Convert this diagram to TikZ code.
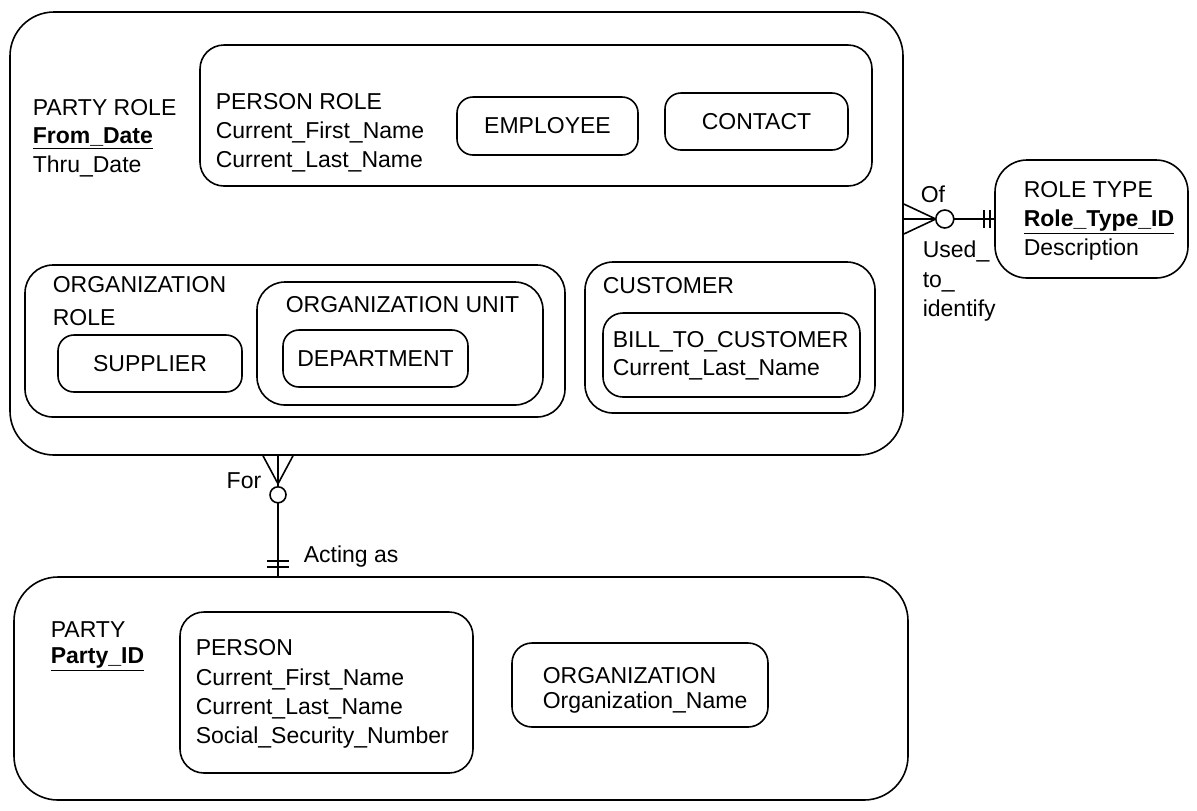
\documentclass[tikz,border=0pt]{standalone}
\usepackage{fontspec}
\setmainfont{Liberation Sans}
\usetikzlibrary{fit,calc}
\begin{document}
\begin{tikzpicture}[x=0.5pt,y=-0.5pt,line width=0.8pt,
  box/.style={draw,rounded corners=#1,inner sep=0pt},
  box/.default=8pt,
  txt/.style={anchor=base west,inner sep=0pt,font=\fontsize{11.5}{13}\selectfont},
  rtxt/.style={anchor=base east,inner sep=0pt,font=\fontsize{11.5}{13}\selectfont},
  ctxt/.style={inner sep=0pt,font=\fontsize{11.5}{13}\selectfont},
  key/.style={txt,font=\fontsize{11.5}{13}\selectfont\bfseries}]
\useasboundingbox (0,0) rectangle (1197,810);

% entity boxes
\node[box=22pt,fit={(10,12) (903,455)}] (partyrole) {};
\node[box=12pt,fit={(200,45) (872,186)}] (personrole) {};
\node[box=8pt,fit={(457,97) (638,155)}] (employee) {};
\node[box=8pt,fit={(665,93) (848,150)}] (contact) {};
\node[box=14pt,fit={(25,265) (565,417)}] (orgrole) {};
\node[box=8pt,fit={(58,335) (242,392)}] (supplier) {};
\node[box=14pt,fit={(257,282) (543,405)}] (orgunit) {};
\node[box=8pt,fit={(283,330) (468,387)}] (department) {};
\node[box=14pt,fit={(585,262) (875,413)}] (customer) {};
\node[box=10pt,fit={(603,313) (860,397)}] (billto) {};
\node[box=16pt,fit={(995,160) (1188,278)}] (roletype) {};
\node[box=22pt,fit={(14,577) (908,800)}] (party) {};
\node[box=12pt,fit={(180,612) (473,773)}] (person) {};
\node[box=10pt,fit={(512,643) (768,727)}] (organization) {};

% texts
\node[txt] (t1) at (32,115) {PARTY ROLE};
\node[key] (t2) at (32,143) {\underline{From\_Date}};
\node[txt] (t3) at (32,172) {Thru\_Date};
\node[txt] (t4) at (215,109) {PERSON ROLE};
\node[txt] (t5) at (215,138) {Current\_First\_Name};
\node[txt] (t6) at (215,167) {Current\_Last\_Name};
\node[ctxt] (t7) at (employee.center) {EMPLOYEE};
\node[ctxt] (t8) at (contact.center) {CONTACT};
\node[txt] (t9) at (52,292) {ORGANIZATION};
\node[txt] (t10) at (52,325) {ROLE};
\node[ctxt] (t11) at (supplier.center) {SUPPLIER};
\node[txt] (t12) at (285,312) {ORGANIZATION UNIT};
\node[ctxt] (t13) at (department.center) {DEPARTMENT};
\node[txt] (t14) at (602,293) {CUSTOMER};
\node[txt] (t15) at (612,347) {BILL\_TO\_CUSTOMER};
\node[txt] (t16) at (612,375) {Current\_Last\_Name};
\node[txt] (t17) at (1023,197) {ROLE TYPE};
\node[key] (t18) at (1023,226) {\underline{Role\_Type\_ID}};
\node[txt] (t19) at (1023,255) {Description};
\node[txt] (t20) at (50,637) {PARTY};
\node[key] (t21) at (50,663) {\underline{Party\_ID}};
\node[txt] (t22) at (195,655) {PERSON};
\node[txt] (t23) at (195,685) {Current\_First\_Name};
\node[txt] (t24) at (195,714) {Current\_Last\_Name};
\node[txt] (t25) at (195,743) {Social\_Security\_Number};
\node[txt] (t26) at (542,683) {ORGANIZATION};
\node[txt] (t27) at (542,708) {Organization\_Name};

% relationship PARTY ROLE -- ROLE TYPE
\coordinate (rc) at (partyrole.east |- roletype.west);
\draw (rc) -- (roletype.west);
\draw ($(rc)+(0,-15)$) -- ($(rc)+(32,0)$) -- ($(rc)+(0,15)$);
\draw[fill=white] ($(rc)+(41,0)$) circle[radius=4.5pt];
\draw ($(rc)+(80,-9)$) -- ($(rc)+(80,9)$);
\draw ($(rc)+(86,-9)$) -- ($(rc)+(86,9)$);
\node[txt] (of) at (920,202) {Of};
\node[txt] (u1) at (922,257) {Used\_};
\node[txt] (u2) at (922,287) {to\_};
\node[txt] (u3) at (922,316) {identify};

% relationship PARTY ROLE -- PARTY
\coordinate (bx) at (278,0);
\coordinate (bt) at (partyrole.south -| bx);
\coordinate (bb) at (party.north -| bx);
\draw (bt) -- (bb);
\draw ($(bt)+(-15,0)$) -- ($(bt)+(0,28)$) -- ($(bt)+(15,0)$);
\draw[fill=white] ($(bt)+(0,39)$) circle[radius=4pt];
\draw ($(bb)+(-11,-15)$) -- ($(bb)+(11,-15)$);
\draw ($(bb)+(-11,-9)$) -- ($(bb)+(11,-9)$);
\node[rtxt] (for) at (262,488) {For};
\node[txt] (act) at (303,562) {Acting as};
\end{tikzpicture}
\end{document}
